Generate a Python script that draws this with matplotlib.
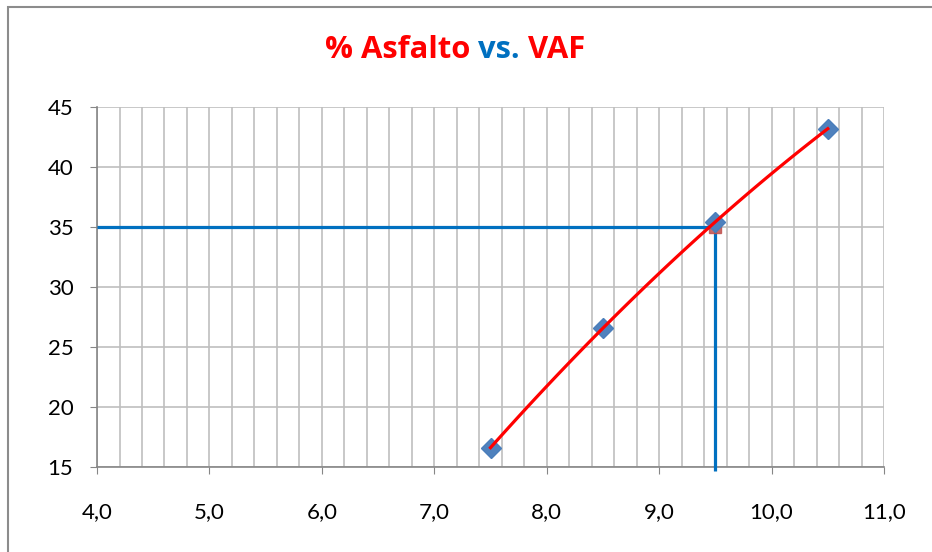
import numpy as np
import matplotlib
matplotlib.use("Agg")
import matplotlib.pyplot as plt
from matplotlib.ticker import MultipleLocator, FuncFormatter
from matplotlib.patches import Rectangle

# % asfalto vs. VAF
asfalto = [7.5, 8.5, 9.5, 10.5]
vaf = [16.6, 26.6, 35.4, 43.2]

# valor de diseño
vaf_diseno = 35
asfalto_diseno = 9.5

x_ticks = [4.0, 5.0, 6.0, 7.0, 8.0, 9.0, 10.0, 11.0]
y_ticks = [15, 20, 25, 30, 35, 40, 45]

rojo = "#FF0000"
azul = "#0070C0"
gris = "#BFBFBF"

fig = plt.figure(figsize=(9.32, 5.52), dpi=100)
ax = fig.add_axes([0.1041, 0.154, 0.8444, 0.6522])

# marco del gráfico
fig.patches.append(Rectangle((8 / 932, -0.05), 1.2, 1 - 7 / 552 + 0.05,
                             transform=fig.transFigure, fill=False,
                             edgecolor="#8C8C8C", linewidth=1.5))

ax.set_xlim(x_ticks[0], x_ticks[-1])
ax.set_ylim(y_ticks[0], y_ticks[-1])
ax.set_xticks(x_ticks)
ax.set_yticks(y_ticks)
ax.xaxis.set_minor_locator(MultipleLocator(0.2))
ax.xaxis.set_major_formatter(FuncFormatter(lambda v, p: f"{v:.1f}".replace(".", ",")))

ax.grid(True, which="both", axis="x", color=gris, linewidth=1.2)
ax.grid(True, which="major", axis="y", color=gris, linewidth=1.2)
ax.set_axisbelow(True)

for s in ["top", "right"]:
    ax.spines[s].set_visible(False)
for s in ["left", "bottom"]:
    ax.spines[s].set_color("#868686")
    ax.spines[s].set_linewidth(1.2)

ax.tick_params(axis="both", which="major", direction="out", length=5,
               color="#868686", labelsize=16)
ax.tick_params(axis="x", which="major", pad=20)
ax.tick_params(axis="y", which="major", pad=12)
ax.tick_params(axis="x", which="minor", length=0)
for lab in ax.get_xticklabels() + ax.get_yticklabels():
    lab.set_family("Lato")

# líneas de lectura
ax.plot([x_ticks[0], asfalto_diseno], [vaf_diseno, vaf_diseno], color=azul,
        linewidth=2.3, solid_capstyle="butt", zorder=3)
ax.plot([asfalto_diseno, asfalto_diseno], [y_ticks[0] - 0.3, vaf_diseno], color=azul,
        linewidth=2.3, solid_capstyle="butt", zorder=3, clip_on=False)

# punto de diseño
ax.plot([asfalto_diseno], [vaf_diseno], marker="s", markersize=8,
        color="#C0504D", alpha=0.85, linestyle="none", zorder=4)

# datos y línea de tendencia polinómica
ax.plot(asfalto, vaf, marker="D", markersize=10, color="#4F81BD",
        markeredgecolor="#4A7EBB", linestyle="none", zorder=5)
coef = np.polyfit(asfalto, vaf, 2)
xs = np.linspace(asfalto[0], asfalto[-1], 100)
ax.plot(xs, np.polyval(coef, xs), color=rojo, linewidth=2.3, zorder=6)

# título en tres colores
partes = [("% Asfalto ", rojo), ("vs. ", azul), ("VAF", rojo)]
fig.canvas.draw()
r = fig.canvas.get_renderer()
textos = []
x = 0
for s, c in partes:
    t = fig.text(x, 1 - 50 / 552, s, color=c, fontsize=22.3, fontweight="bold",
                 family="Open Sans", va="center", ha="left")
    textos.append(t)
    x += t.get_window_extent(r).width / fig.bbox.width
inicio = 455 / 932 - x / 2
for t in textos:
    t.set_x(t.get_position()[0] + inicio)

fig.savefig("out.png", dpi=100)
